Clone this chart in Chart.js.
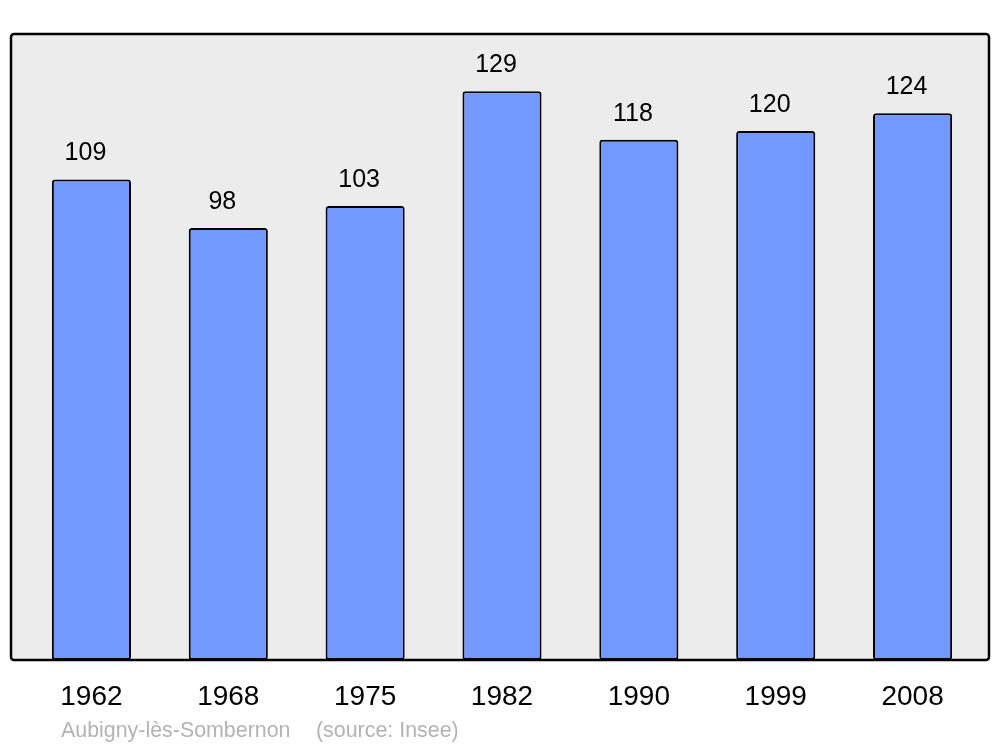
<!DOCTYPE html>
<html lang="fr">
<head>
    <meta charset="UTF-8">
    <title>Aubigny-lès-Sombernon</title>
    <script src="https://cdn.jsdelivr.net/npm/chart.js"></script>
    <style>
        body { margin: 0; background: #fff; }
        #wrap { position: relative; width: 1000px; height: 747px; }
        .src {
            position: absolute; top: 718px;
            font-family: "Liberation Sans", Arial, sans-serif;
            font-size: 21.4px; color: #b3b3b3; white-space: pre;
        }
    </style>
</head>
<body>
<div id="wrap">
    <canvas id="chart" width="1000" height="747"></canvas>
    <span class="src" style="left:61px">Aubigny-lès-Sombernon</span>
    <span class="src" style="left:316px">(source: Insee)</span>
</div>
<script>
    const years = ['1962', '1968', '1975', '1982', '1990', '1999', '2008'];
    const population = [109, 98, 103, 129, 118, 120, 124];
    const yMax = 142;

    const FONT = '"Liberation Sans", Arial, sans-serif';

    // grey plot background with rounded black frame (slightly wider than the x scale)
    function framePath(chart) {
        const { ctx, chartArea: a } = chart;
        const l = a.left - 12, r = a.right + 8;
        ctx.beginPath();
        ctx.roundRect(l, a.top, r - l, a.bottom - a.top, 3);
    }

    const frame = {
        id: 'frame',
        beforeDraw(chart) {
            const ctx = chart.ctx;
            ctx.save();
            framePath(chart);
            ctx.fillStyle = '#ececec';
            ctx.fill();
            ctx.restore();
        },
        afterDatasetsDraw(chart) {
            const ctx = chart.ctx;
            ctx.save();
            framePath(chart);
            ctx.lineWidth = 2.5;
            ctx.strokeStyle = '#000';
            ctx.stroke();

            // values above bars
            ctx.fillStyle = '#000';
            ctx.font = '25px ' + FONT;
            ctx.textAlign = 'center';
            ctx.textBaseline = 'middle';
            chart.getDatasetMeta(0).data.forEach((bar, i) => {
                ctx.fillText(String(population[i]), bar.x - 6, bar.y - 26);
            });
            ctx.restore();
        }
    };

    new Chart(document.getElementById('chart'), {
        type: 'bar',
        data: {
            labels: years,
            datasets: [{
                data: population,
                backgroundColor: '#7399ff',
                borderColor: '#000',
                borderWidth: 2,
                borderRadius: 3,
                borderSkipped: false,
                categoryPercentage: 1,
                barPercentage: 0.578
            }]
        },
        options: {
            responsive: false,
            animation: false,
            layout: { padding: { left: 23, right: 19, top: 34, bottom: 0 } },
            plugins: { legend: { display: false }, tooltip: { enabled: false } },
            scales: {
                y: { display: false, min: 0, max: yMax },
                x: {
                    grid: { display: false },
                    border: { display: false },
                    ticks: {
                        color: '#000',
                        padding: 12,
                        font: { family: FONT, size: 28 }
                    },
                    afterFit(scale) { scale.height = 87; }
                }
            }
        },
        plugins: [frame]
    });
</script>
</body>
</html>
